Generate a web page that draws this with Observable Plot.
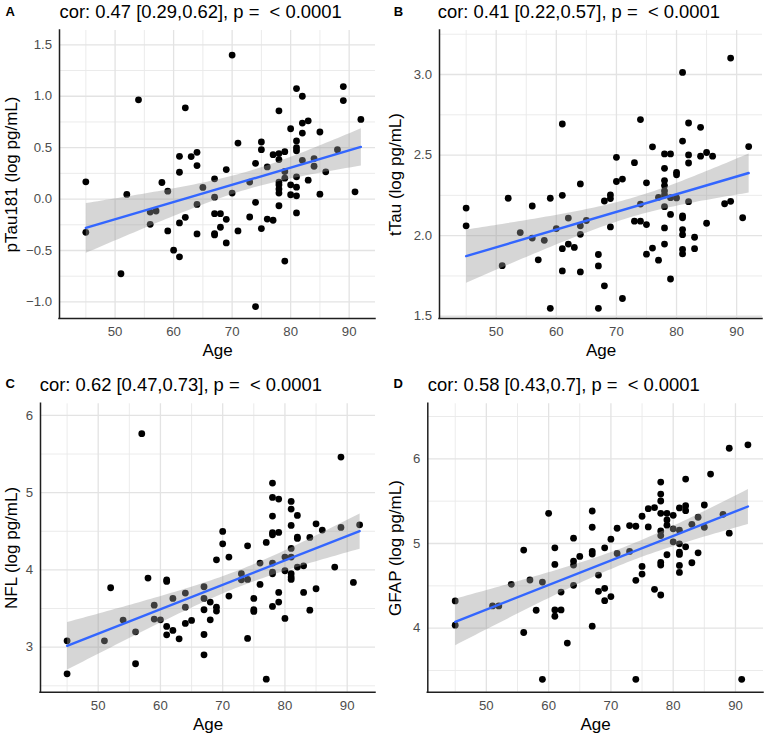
<!DOCTYPE html>
<html><head><meta charset="utf-8">
<script src="https://cdn.jsdelivr.net/npm/d3@7"></script>
<script src="https://cdn.jsdelivr.net/npm/@observablehq/plot@0.6"></script>
<style>
body{margin:0;background:#fff;}
#wrap{position:relative;width:767px;height:737px;background:#fff;}
#wrap svg{position:absolute;}
</style></head><body><div id="wrap"></div>
<script>
const FONT = '"Liberation Sans", Helvetica, Arial, sans-serif';

// shared x axis ticks
const xTicks = [50, 60, 70, 80, 90];
const xMinor = [45, 55, 65, 75, 85];
const xLabel = "Age";

// Panel A: pTau181
const ageA = [70,54,62,81,82,89,89,92,78,82,83,80,82,85,71,75,75,81,81,81,77,78,79,78,88,61,63,64,64,61,74,76,82,84,84,69,79,86,45,58,67,73,81,83,78,78,79,80,81,78,78,80,81,85,91,52,59,65,67,70,64,74,78,56,57,56,67,68,69,73,76,77,81,62,61,59,68,71,75,64,67,67,45,69,60,61,79,51,74];
const valA = [1.40,0.965,0.887,1.074,1.0,1.094,0.958,0.774,0.858,0.739,0.761,0.684,0.642,0.652,0.545,0.555,0.48,0.565,0.50,0.47,0.432,0.442,0.461,0.384,0.48,0.416,0.413,0.455,0.326,0.261,0.348,0.313,0.377,0.394,0.319,0.287,0.268,0.265,0.168,0.161,0.197,0.165,0.216,0.184,0.165,0.139,0.203,0.139,0.116,0.097,0.058,0.042,0.032,0.048,0.071,0.045,0.077,0.113,0.019,0.058,-0.052,-0.032,-0.065,-0.126,-0.116,-0.245,-0.142,-0.142,-0.197,-0.174,-0.194,-0.206,-0.135,-0.177,-0.232,-0.31,-0.274,-0.31,-0.287,-0.339,-0.335,-0.348,-0.323,-0.426,-0.497,-0.561,-0.603,-0.726,-1.045];
const yTicksA = [-1.0, -0.5, 0.0, 0.5, 1.0, 1.5];
const yMinorA = [-0.75, -0.25, 0.25, 0.75, 1.25];
const titleA = "cor: 0.47 [0.29,0.62], p = \u00a0< 0.0001";
const yLabelA = "pTau181 (log pg/mL)";

// Panel B: tTau
const ageB = [89,81,61,74,82,84,81,76,92,78,79,82,84,85,86,70,73,82,78,80,80,70,71,75,78,78,64,61,69,69,68,78,78,77,79,80,52,59,56,45,74,78,82,88,89,79,81,81,91,62,65,64,69,73,74,75,45,85,78,60,54,64,56,58,81,81,83,62,63,61,78,76,83,81,81,75,67,77,57,51,67,61,64,79,68,71,59,67];
const valB = [3.102,3.013,2.693,2.72,2.699,2.672,2.587,2.551,2.553,2.507,2.507,2.501,2.493,2.516,2.493,2.486,2.453,2.451,2.418,2.393,2.378,2.336,2.351,2.328,2.342,2.311,2.321,2.25,2.253,2.23,2.215,2.278,2.253,2.238,2.236,2.234,2.232,2.232,2.184,2.171,2.196,2.18,2.211,2.198,2.213,2.132,2.123,2.111,2.111,2.109,2.094,2.061,2.054,2.09,2.09,2.069,2.061,2.077,2.048,2.044,2.019,2.008,1.985,1.971,2.038,2.006,1.99,1.948,1.927,1.919,1.948,1.923,1.919,1.914,1.887,1.885,1.883,1.848,1.85,1.814,1.812,1.781,1.775,1.731,1.689,1.61,1.549,1.549];
const yTicksB = [1.5, 2.0, 2.5, 3.0];
const yMinorB = [1.75, 2.25, 2.75, 3.25];
const titleB = "cor: 0.41 [0.22,0.57], p = \u00a0< 0.0001";
const yLabelB = "tTau (log pg/mL)";

// Panel C: NFL
const ageC = [57,89,78,78,79,81,81,82,78,81,85,86,89,92,70,78,78,79,82,82,84,70,74,77,71,69,81,80,81,76,78,78,78,80,81,81,81,82,83,88,73,73,74,58,61,61,91,52,76,67,71,64,62,67,75,79,83,85,59,64,68,69,69,75,75,78,79,84,67,54,59,60,65,68,64,61,62,61,56,67,63,74,80,45,51,67,56,45,77];
const valC = [5.763,5.46,5.124,4.938,4.917,4.886,4.787,4.705,4.697,4.576,4.597,4.515,4.55,4.584,4.498,4.481,4.455,4.485,4.425,4.407,4.42,4.338,4.312,4.356,4.166,4.131,4.278,4.166,4.166,4.088,4.088,3.972,3.95,3.989,3.95,3.907,3.877,4.036,4.053,4.036,3.95,3.872,3.877,3.894,3.872,3.851,3.838,3.769,3.812,3.782,3.661,3.7,3.631,3.631,3.631,3.708,3.708,3.756,3.544,3.518,3.583,3.518,3.467,3.484,3.462,3.527,3.583,3.479,3.484,3.35,3.363,3.354,3.346,3.354,3.307,3.268,3.216,3.16,3.199,3.164,3.108,3.113,3.372,3.082,3.082,2.901,2.785,2.655,2.586];
const yTicksC = [3, 4, 5, 6];
const yMinorC = [2.5, 3.5, 4.5, 5.5];
const titleC = "cor: 0.62 [0.47,0.73], p = \u00a0< 0.0001";
const yLabelC = "NFL (log pg/mL)";

// Panel D: GFAP
const ageD = [92,89,86,82,78,78,78,85,60,67,76,77,81,82,82,78,79,80,75,79,79,84,88,67,71,73,74,76,83,85,80,78,78,81,89,64,70,80,81,82,81,81,84,56,61,69,67,67,71,73,65,64,64,61,79,78,78,83,81,81,75,75,68,74,57,59,54,64,69,68,62,70,69,77,78,45,51,52,58,61,62,61,45,67,56,63,59,74,91];
const valD = [6.165,6.125,5.82,5.761,5.725,5.584,5.502,5.455,5.357,5.384,5.412,5.424,5.42,5.447,5.388,5.357,5.357,5.333,5.322,5.278,5.216,5.31,5.345,5.192,5.18,5.212,5.204,5.196,5.227,5.192,5.173,5.149,5.094,5.157,5.122,5.063,5.051,5.02,4.996,4.961,4.898,4.871,4.89,4.922,4.949,4.949,4.906,4.875,4.882,4.906,4.847,4.792,4.745,4.753,4.867,4.776,4.745,4.773,4.741,4.659,4.729,4.639,4.627,4.565,4.569,4.545,4.518,4.506,4.471,4.435,4.427,4.373,4.325,4.459,4.392,4.322,4.263,4.263,4.212,4.216,4.216,4.141,4.035,4.024,3.949,3.824,3.396,3.396,3.396];
const yTicksD = [4, 5, 6];
const yMinorD = [3.5, 4.5, 5.5, 6.5];
const titleD = "cor: 0.58 [0.43,0.7], p = \u00a0< 0.0001";
const yLabelD = "GFAP (log pg/mL)";

const panels = [
  {letter:"A", age:ageA, val:valA, yTicks:yTicksA, yMinor:yMinorA, fmt:".1f", title:titleA, ylabel:yLabelA,
   left:0, top:0, w:384, h:368, m:[30,9,50,59], xDomain:[40.5,94.5], yDomain:[-1.161,1.639],
   titleX:59, titleY:17.5, letterX:5, letterY:15.7},
  {letter:"B", age:ageB, val:valB, yTicks:yTicksB, yMinor:yMinorB, fmt:".1f", title:titleB, ylabel:yLabelB,
   left:384, top:0, w:383, h:368, m:[30,5,50,55], xDomain:[40.57,94.3], yDomain:[1.486,3.273],
   titleX:53.3, titleY:17, letterX:9.3, letterY:15.7},
  {letter:"C", age:ageC, val:valC, yTicks:yTicksC, yMinor:yMinorC, fmt:"d", title:titleC, ylabel:yLabelC,
   left:0, top:368, w:384, h:369, m:[35.3,9,45.3,40], xDomain:[40.73,94.55], yDomain:[2.417,6.15],
   titleX:39.3, titleY:22.7, letterX:5, letterY:19},
  {letter:"D", age:ageD, val:valD, yTicks:yTicksD, yMinor:yMinorD, fmt:"d", title:titleD, ylabel:yLabelD,
   left:384, top:368, w:383, h:369, m:[35.3,4,45.3,43.3], xDomain:[40.6,94.5], yDomain:[3.244,6.65],
   titleX:43.3, titleY:22.7, letterX:9, letterY:19}
];

const wrap = document.getElementById("wrap");
for (const p of panels) {
  const data = p.age.map((a, i) => ({age: a, value: p.val[i]}));
  const [mt, mr, mb, ml] = p.m;
  const svg = Plot.plot({
    width: p.w, height: p.h,
    marginTop: mt, marginRight: mr, marginBottom: mb, marginLeft: ml,
    style: {fontFamily: FONT, background: "transparent", overflow: "visible"},
    x: {domain: p.xDomain},
    y: {domain: p.yDomain},
    marks: [
      Plot.gridX(xMinor, {stroke: "#e9e9e9", strokeOpacity: 1, strokeWidth: 0.9}),
      Plot.gridY(p.yMinor, {stroke: "#e9e9e9", strokeOpacity: 1, strokeWidth: 0.9}),
      Plot.gridX(xTicks, {stroke: "#e3e3e3", strokeOpacity: 1, strokeWidth: 1.3}),
      Plot.gridY(p.yTicks, {stroke: "#e3e3e3", strokeOpacity: 1, strokeWidth: 1.3}),
      Plot.dot(data, {x: "age", y: "value", r: 3.4, fill: "black", stroke: "none"}),
      Plot.linearRegressionY(data, {x: "age", y: "value", ci: 0.95, stroke: "#3366FF", strokeWidth: 2.4, fill: "#999999", fillOpacity: 0.4}),
      Plot.axisX(xTicks, {tickSize: 0, tickPadding: 8, fontSize: 13.2, color: "#4d4d4d", label: null}),
      Plot.axisY(p.yTicks, {tickSize: 0, tickPadding: 7.5, tickFormat: d3.format(p.fmt), fontSize: 13.2, color: "#4d4d4d", label: null}),
      Plot.ruleY([p.yDomain[0]], {stroke: "#1f1f1f", strokeWidth: 1.5, strokeLinecap: "square"}),
      Plot.ruleX([p.xDomain[0]], {stroke: "#1f1f1f", strokeWidth: 1.5, strokeLinecap: "square"}),
      Plot.text([xLabel], {text: d => d, frameAnchor: "bottom", lineAnchor: "bottom", dy: 37.7, fontSize: 17, fill: "black"}),
      Plot.text([p.ylabel], {text: d => d, frameAnchor: "left", rotate: -90, textAnchor: "middle", lineAnchor: "bottom", dx: 16.5 - ml, fontSize: 17, fill: "black"}),
      Plot.text([p.title], {text: d => d, frameAnchor: "top-left", textAnchor: "start", lineAnchor: "bottom", dx: p.titleX - ml, dy: p.titleY - mt, fontSize: 18.4, fill: "black"}),
      Plot.text([p.letter], {text: d => d, frameAnchor: "top-left", textAnchor: "start", lineAnchor: "bottom", dx: p.letterX - ml, dy: p.letterY - mt, fontSize: 13, fontWeight: "bold", fill: "black"})
    ]
  });
  svg.style.left = p.left + "px";
  svg.style.top = p.top + "px";
  wrap.appendChild(svg);
}
</script>
</body></html>
